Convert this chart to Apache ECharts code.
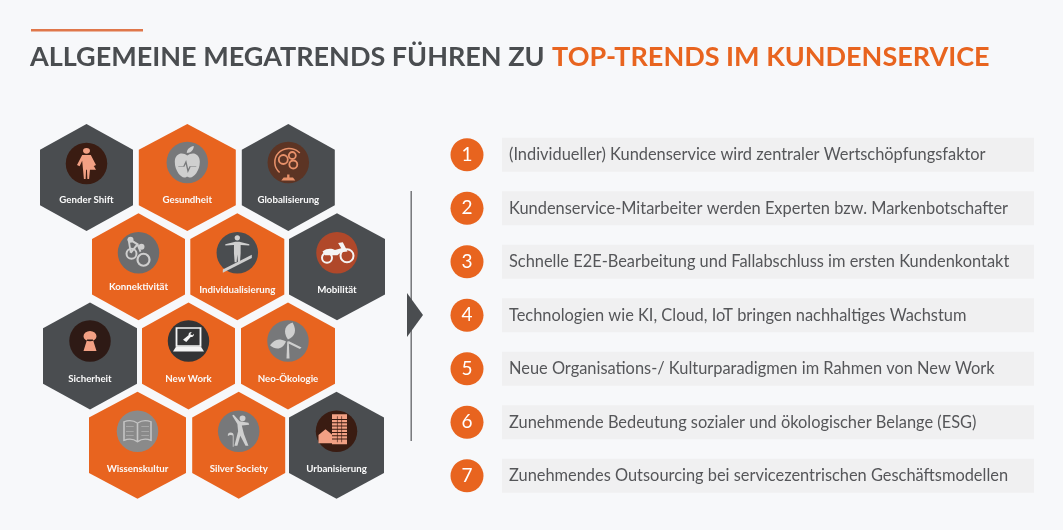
<!DOCTYPE html>
<html><head><meta charset="utf-8">
<style>html,body{margin:0;padding:0;background:#f7f8fa}#c{width:1063px;height:530px}</style>
<script src="https://cdn.jsdelivr.net/npm/echarts@6/dist/echarts.min.js"></script>
</head><body><div id="c"></div>
<script>
const titleDark = 'ALLGEMEINE MEGATRENDS FÜHREN ZU';
const titleAccent = 'TOP-TRENDS IM KUNDENSERVICE';
const trendNames = ['Gender Shift','Gesundheit','Globalisierung','Konnektivität','Individualisierung','Mobilität','Sicherheit','New Work','Neo-Ökologie','Wissenskultur','Silver Society','Urbanisierung'];
const trendCols = [0,1.008,2.018,0.52,1.508,2.505,0.035,1.02,2.015,0.51,1.522,2.5];
const trendRows = [0,0,0,1,1,1,2,2,2,3,3,3];
const trendGroup = ['d','o','d','o','o','d','d','o','o','o','o','d'];
const hexWidths = [93,97,93,93,94,96,94,93,94,97,93,95];
const labelOffsets = [22,22,22,20,23,23,23,23,23,24,24,24];
const discOffsets = [-14,-15,-15,-14,-14,-14,-15,-15,-15,-14,-14,-14];
const discColors = ['#3a1c12','#77787a','#5c3424','#6b6c6e','#4a4d50','#b0482a','#2e1a15','#333436','#77787a','#8a8a8a','#77787a','#3a1c12'];
const listItems = [
 '(Individueller) Kundenservice wird zentraler Wertschöpfungsfaktor',
 'Kundenservice-Mitarbeiter werden Experten bzw. Markenbotschafter',
 'Schnelle E2E-Bearbeitung und Fallabschluss im ersten Kundenkontakt',
 'Technologien wie KI, Cloud, IoT bringen nachhaltiges Wachstum',
 'Neue Organisations-/ Kulturparadigmen im Rahmen von New Work',
 'Zunehmende Bedeutung sozialer und ökologischer Belange (ESG)',
 'Zunehmendes Outsourcing bei servicezentrischen Geschäftsmodellen'];
const listNumbers = ['1','2','3','4','5','6','7'];
const barValues = [1,1,1,1,1,1,1];

const ORANGE='#e8641f', DARK='#4a4d50', SALMON='#f2a084', LIGHT='#cfcfcf', WHITE='#f4f4f4';
const hexPath='path://M50 0L100 24L100 76L50 100L0 76L0 24Z';
const circ=(x,y,r)=>`M${x-r} ${y}a${r} ${r} 0 1 0 ${2*r} 0a${r} ${r} 0 1 0 ${-2*r} 0Z`;
const icons = [
 [{d:circ(20,4,4)+'M15 10L25 10L31 24L28 26L25 18L31 31L24 31L23 44L21 44L20.5 31L19.5 31L19 44L17 44L16 31L15 18L12 26L9 24Z',w:19,h:31,c:SALMON}],
 [{d:'M20 12C14 7 4 9 4 20C4 32 12 40 16 40C18 40 19 39 20 39C21 39 22 40 24 40C28 40 36 32 36 20C36 9 26 7 20 12Z',w:25,h:24,dy:3,c:LIGHT},
  {d:'M21 9C21 4 25 2 29 1C29 5 26 9 21 9Z',w:7,h:7,dx:3,dy:-13,c:LIGHT},
  {d:'M0 8L8 8L11 2L14 14L17 8L26 8',w:18,h:9,dy:4,s:'#77787a',lw:1}],
 [{d:'M8 30A17 17 0 1 1 32 6',w:25,h:24,dx:-1,dy:-2,s:'#e8916a',lw:1.5},
  {d:circ(14,14,4),w:9,h:9,dx:-5,dy:-3,s:'#e8916a',lw:1.8},
  {d:circ(24,10,3),w:7,h:7,dx:4,dy:-7,s:'#e8916a',lw:1.8},
  {d:circ(24,22,3),w:8,h:8,dx:5,dy:2,s:'#e8916a',lw:1.8},
  {d:'M6 0L14 0L16 4L4 4Z M9 -4L11 -4L11 0L9 0Z',w:14,h:6,dy:15,c:'#e8916a'}],
 [{d:'M6 6L18 12L9 21M18 12L22 20M6 6L9 21',w:12,h:14,dx:-4,dy:-7,s:LIGHT,lw:2},
  {d:circ(6,6,3),w:6,h:6,dx:-8,dy:-13,c:LIGHT},
  {d:circ(18,12,3),w:6,h:6,dx:3,dy:-6,c:LIGHT},
  {d:circ(9,21,4),w:10,h:10,dx:-7,dy:1,s:LIGHT,lw:2},
  {d:circ(22,20,5),w:12,h:12,dx:5,dy:7,s:LIGHT,lw:2.2}],
 [{d:circ(20,4,4)+'M17 10L23 10L38 14L38 16L25 15L25 28L24 42L21 42L20 30L19 42L16 42L15 28L15 15L2 16L2 14Z',w:24,h:27,dy:-4,c:LIGHT},
  {d:'M0 14L28 0L28 3L0 17Z',w:29,h:18,dx:0,dy:11,c:LIGHT}],
 [{d:circ(10,10,9),w:10,h:10,dx:-10,dy:5,s:WHITE,lw:2},
  {d:circ(10,10,9),w:13,h:13,dx:10,dy:3,s:WHITE,lw:2},
  {d:'M2 8C8 3 14 4 18 6L26 4L22 -3L28 -4L34 8L26 9L21 13L5 13Z',w:25,h:13,dx:-2,dy:-4,c:WHITE}],
 [{d:circ(10,10,9)+'M6 16L14 16L19 36L1 36Z',w:13,h:20,c:SALMON}],
 [{d:'M4 0L36 0L36 22L4 22Z',w:24,h:18,dy:-4,s:WHITE,lw:1.6},
  {d:'M4 0L36 0L40 6L0 6Z',w:31,h:5,dy:8,c:WHITE},
  {d:'M0 14L10 6C10 2 12 0 16 0L13 4L17 6L20 3C20 7 18 9 14 9L6 18Z',w:11,h:10,dy:-4,c:WHITE}],
 [{d:'M19 18L21 18L22 42L18 42Z',w:3,h:17,dy:9,c:LIGHT},
  {d:'M20 16C15 8 18 2 24 0C28 8 26 13 20 16Z',w:10,h:17,dx:2,dy:-10,c:LIGHT},
  {d:'M20 16C10 12 6 14 0 20C8 26 16 24 20 16Z',w:16,h:9,dx:-10,dy:3,c:LIGHT},
  {d:'M20 16L36 24L34 26L20 19Z',w:13,h:8,dx:7,dy:4,c:LIGHT}],
 [{d:'M20 6C14 2 6 2 0 4L0 30C6 28 14 28 20 32C26 28 34 28 40 30L40 4C34 2 26 2 20 6ZM20 6L20 32',w:27,h:21,s:'#c4c4c4',lw:1.4},
  {d:'M5 10L15 10M5 15L15 15M5 20L15 20M25 10L35 10M25 15L35 15M25 20L35 20',w:23,h:9,s:'#c4c4c4',lw:1}],
 [{d:circ(16,4,4)+'M2 0L4 -1L12 8L24 10L25 13L15 14L18 26L24 42L20 42L13 28L9 42L5 42L10 22L9 12Z',w:17,h:31,dx:2,dy:-1,c:LIGHT},
  {d:'M0 4C0 0 6 0 6 4L6 20',w:5,h:13,dx:-8,dy:9,s:LIGHT,lw:1.4}],
 [{d:'M0 0L20 0L20 40L0 40Z',w:15,h:30,dx:3,dy:-2,c:SALMON},
  {d:'M0 10L10 0L20 10L20 24L0 24Z',w:14,h:14,dx:-11,dy:5,c:SALMON},
  {d:'M0 5L20 5M0 10L20 10M0 15L20 15M0 20L20 20M0 25L20 25M0 30L20 30M0 35L20 35M7 0L7 40M13 0L13 40',w:15,h:26,dx:3,dy:-2,s:'#3a1c12',lw:.8}]
];

const hexData = trendNames.map((n,i)=>({
  name:n, value:[trendCols[i],trendRows[i]], symbolSize:[hexWidths[i],107],
  itemStyle:{color:trendGroup[i]==='d'?DARK:ORANGE,opacity:1},
  label:{offset:[0,labelOffsets[i]]}
}));
const discData = trendNames.map((n,i)=>({
  name:n, value:[trendCols[i],trendRows[i]], symbolOffset:[0,discOffsets[i]],
  itemStyle:{color:discColors[i],opacity:1}
}));
const iconData = [];
icons.forEach((list,i)=>list.forEach(p=>iconData.push({
  name:trendNames[i], value:[trendCols[i],trendRows[i]],
  symbol:'path://'+p.d, symbolSize:[p.w,p.h],
  symbolOffset:[p.dx||0,discOffsets[i]+(p.dy||0)],
  itemStyle:p.s?{color:'transparent',borderColor:p.s,borderWidth:p.lw,opacity:1}:{color:p.c,borderWidth:0,opacity:1}
})));

const chart = echarts.init(document.getElementById('c'),null,{renderer:'canvas'});
chart.setOption({
  backgroundColor:'#f7f8fa',
  animation:false,
  title:{left:25,top:39,text:`{a|${titleDark}} {b|${titleAccent}}`,
    textStyle:{rich:{
      a:{fontFamily:'Lato',fontWeight:'bold',fontSize:27,color:'#4a4d50'},
      b:{fontFamily:'Lato',fontWeight:'bold',fontSize:27,color:'#e8641f',padding:[0,0,0,2.5]}}}},
  graphic:[
    {type:'rect',shape:{x:31,y:29,width:112,height:2.5},style:{fill:'#e0774a'}},
    {type:'rect',shape:{x:410.5,y:191,width:1.4,height:250},style:{fill:'#6b6d70'}},
    {type:'polygon',shape:{points:[[407,293],[423,315],[407,337]]},style:{fill:DARK}}
  ],
  grid:[
    {left:86.5,top:177.5,width:300,height:267.75},
    {left:502,top:128,width:532,height:374.5},
    {left:450,top:128,width:34,height:374.5}
  ],
  xAxis:[
    {gridIndex:0,type:'value',min:0,max:3,show:false},
    {gridIndex:1,type:'value',min:0,max:1,show:false},
    {gridIndex:2,type:'value',min:-1,max:1,show:false}
  ],
  yAxis:[
    {gridIndex:0,type:'value',min:0,max:3,inverse:true,show:false},
    {gridIndex:1,type:'category',data:listItems,inverse:true,show:false},
    {gridIndex:2,type:'category',data:listNumbers,inverse:true,show:false}
  ],
  series:[
    {type:'scatter',name:'Megatrends',xAxisIndex:0,yAxisIndex:0,clip:false,symbol:hexPath,silent:true,
     data:hexData,
     label:{show:true,position:'inside',formatter:'{b}',color:'#fafafa',fontFamily:'Lato',fontWeight:'bold',fontSize:9.7}},
    {type:'scatter',name:'Scheiben',xAxisIndex:0,yAxisIndex:0,clip:false,symbol:'circle',symbolSize:41.5,silent:true,data:discData,z:3},
    {type:'scatter',name:'Symbole',xAxisIndex:0,yAxisIndex:0,clip:false,silent:true,data:iconData,z:4},
    {type:'bar',name:'Top-Trends',xAxisIndex:1,yAxisIndex:1,barWidth:34,silent:true,
     data:barValues,itemStyle:{color:'#f0f0f1'},
     label:{show:true,position:'insideLeft',distance:7,formatter:'{b}',color:'#555659',fontFamily:'Lato',fontSize:16.4}},
    {type:'scatter',name:'Nummern',xAxisIndex:2,yAxisIndex:2,clip:false,symbol:'circle',symbolSize:33,silent:true,
     data:listNumbers.map(n=>({name:n,value:[0,n],itemStyle:{color:'#e8641f',opacity:1}})),
     label:{show:true,position:'inside',formatter:'{b}',color:'#fff',fontFamily:'Lato',fontSize:19}}
  ]
});
</script></body></html>
